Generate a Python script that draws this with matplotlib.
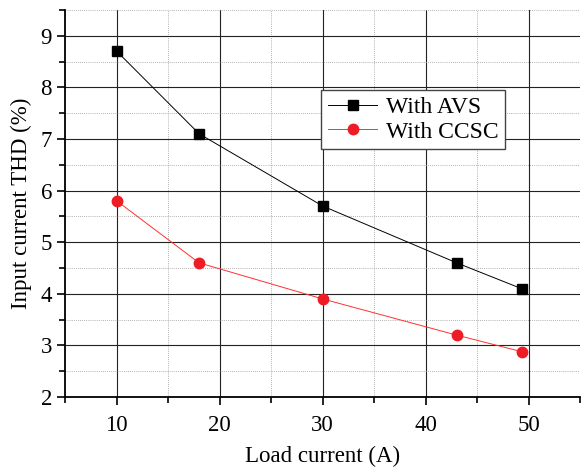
import matplotlib
matplotlib.use('Agg')
import matplotlib.pyplot as plt
from matplotlib.ticker import MultipleLocator

plt.rcParams['font.family'] = ['Liberation Serif', 'DejaVu Serif']

# load current (A)
load_current = [10, 18, 30, 43, 49.3]
thd_avs = [8.7, 7.1, 5.7, 4.6, 4.1]
thd_ccsc = [5.8, 4.6, 3.9, 3.2, 2.88]

fig = plt.figure(figsize=(5.82, 4.71), dpi=100)
ax = fig.add_axes([0.112, 0.157, 0.885, 0.822])

ax.plot(load_current, thd_avs, color='black', linewidth=0.7,
        marker='s', markersize=6.5, label='With AVS')
ax.plot(load_current, thd_ccsc, color='#ff3030', linewidth=0.7,
        marker='o', markersize=7.5, markerfacecolor='#ee1c24',
        markeredgecolor='#ee1c24', label='With CCSC')

ax.set_xlim(5, 55)
ax.set_ylim(2, 9.5)
ax.xaxis.set_major_locator(MultipleLocator(10))
ax.xaxis.set_minor_locator(MultipleLocator(5))
ax.yaxis.set_major_locator(MultipleLocator(1))
ax.yaxis.set_minor_locator(MultipleLocator(0.5))

ax.grid(which='major', color='#222222', linewidth=0.8)
ax.grid(which='minor', color='#999999', linewidth=0.6, linestyle=(0, (1, 1.5)))
ax.set_axisbelow(True)

for s in ['top', 'right']:
    ax.spines[s].set_visible(False)
for s in ['left', 'bottom']:
    ax.spines[s].set_linewidth(1.3)

ax.tick_params(which='major', direction='out', length=6, width=1.2, labelsize=16.5)
ax.tick_params(axis='x', which='major', pad=7)
ax.tick_params(which='minor', direction='out', length=4, width=1.2)

ax.set_xlabel('Load current (A)', fontsize=16.5, labelpad=7)
ax.set_ylabel('Input current THD (%)', fontsize=16.5, labelpad=6)

leg = ax.legend(loc='upper left', bbox_to_anchor=(0.497, 0.793), fontsize=17,
                frameon=True, fancybox=False, handlelength=2.1, numpoints=1,
                borderpad=0.28, labelspacing=0.12, handletextpad=0.35,
                borderaxespad=0)
leg.get_frame().set_edgecolor('#444444')
leg.get_frame().set_linewidth(1.0)
leg.get_frame().set_alpha(1)

plt.savefig('out.png', dpi=100)
